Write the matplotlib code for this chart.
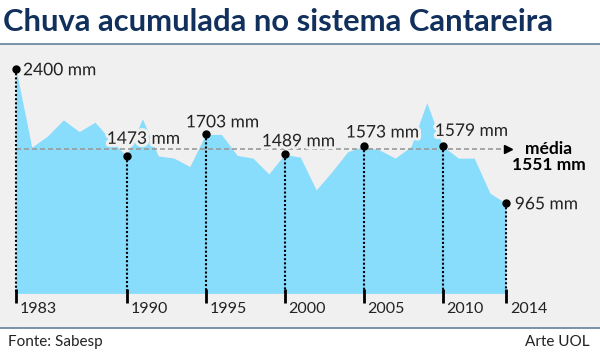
import matplotlib
matplotlib.use("Agg")
import matplotlib.pyplot as plt
import matplotlib.patheffects as pe
from matplotlib.patches import Rectangle

plt.rcParams['font.family'] = ['Lato', 'DejaVu Sans']

# chuva acumulada por ano (mm)
years = list(range(1983, 2015))
rain = [2400, 1565, 1686, 1858, 1732, 1833, 1640, 1473, 1870, 1472,
        1448, 1358, 1703, 1702, 1478, 1448, 1279, 1489, 1458, 1108,
        1304, 1518, 1573, 1536, 1448, 1572, 2043, 1579, 1448, 1448,
        1073, 965]
mean_rain = 1551

tick_years = [1983, 1990, 1995, 2000, 2005, 2010, 2014]
marked_years = [1983, 1990, 1995, 2000, 2005, 2010, 2014]
marked_labels = ['2400 mm', '1473 mm', '1703 mm', '1489 mm',
                 '1573 mm', '1579 mm', '965 mm']
# deslocamento do rótulo em pixels e alinhamento
label_offsets = [(7, -1), (17, 17), (17, 12), (14, 13), (19, 14), (29, 15), (9, -1)]
label_ha = ['left', 'center', 'center', 'center', 'center', 'center', 'left']

title = 'Chuva acumulada no sistema Cantareira'
source = 'Fonte: Sabesp'
credit = 'Arte UOL'

W, H = 600, 359
bg = '#f0f0f0'
blue = '#88dcfc'
navy = '#12305c'
rule = '#62809a'

fig = plt.figure(figsize=(W / 100, H / 100), dpi=100)
fig.patch.set_facecolor('white')

# painel cinza
fig.patches.append(Rectangle((0, 1 - 327.5 / H), 1, (327.5 - 43.5) / H,
                             transform=fig.transFigure, facecolor=bg,
                             edgecolor='none', zorder=-5))
fig.add_artist(plt.Line2D([0, 1], [1 - 43.5 / H] * 2, color=rule, lw=1.2,
                          transform=fig.transFigure))
fig.add_artist(plt.Line2D([0, 1], [1 - 327.5 / H] * 2, color=rule, lw=1.2,
                          transform=fig.transFigure))

ax = fig.add_axes([0, 0, 1, 1])
ax.set_zorder(2)
ax.set_facecolor('none')
px_per_year = 15.8
px_per_mm = 0.0934
x0, y0 = 16, 293.4
ax.set_xlim(1983 - x0 / px_per_year, 1983 + (W - x0) / px_per_year)
ax.set_ylim(-(H - y0) / px_per_mm, y0 / px_per_mm)
ax.axis('off')

ax.fill_between(years, rain, 0, color=blue, lw=0, zorder=1)

# média
ax.plot([1983, 2014], [mean_rain, mean_rain], color='#9a9a9a', lw=1.2,
        dashes=(3, 1.8), zorder=2)
ax.plot([2014 + 2.5 / px_per_year], [mean_rain], marker='>', color='black',
        ms=6, zorder=3)
halo = [pe.withStroke(linewidth=4.5, foreground=bg)]
ax.annotate('média', (2014, mean_rain), xytext=(43, 0), textcoords='offset pixels',
            ha='center', va='center', fontsize=12.5, fontweight='bold', zorder=5)
ax.annotate('1551 mm', (2014, mean_rain), xytext=(43, -16), textcoords='offset pixels',
            ha='center', va='center', fontsize=12.5, fontweight='bold', zorder=5)

# eixo
for yr in tick_years:
    ax.plot([yr, yr], [45, -105], color='black', lw=2, solid_capstyle='butt', zorder=4)
    ax.annotate(str(yr), (yr, -167), xytext=(4, 0), textcoords='offset pixels',
                ha='left', va='center', fontsize=11.5, color='#222222')

# marcadores
for i, yr in enumerate(marked_years):
    v = rain[years.index(yr)]
    ax.plot([yr, yr], [v, 0], color='black', lw=1.5, ls=(0, (1, 1)), zorder=3)
    ax.plot([yr], [v], 'o', color='black', ms=5, zorder=4)
    dx, dy = label_offsets[i]
    ax.annotate(marked_labels[i], (yr, v), xytext=(dx, dy), textcoords='offset pixels',
                ha=label_ha[i], va='center', fontsize=12.5, color='#222222',
                path_effects=halo, zorder=6)

fig.text(3 / W, 1 - 22 / H, title, fontsize=22.2, fontweight='bold', color=navy,
         ha='left', va='center')
fig.text(8 / W, 1 - 342 / H, source, fontsize=11, color='#222222', ha='left', va='center')
fig.text(590 / W, 1 - 342 / H, credit, fontsize=11, color='#222222', ha='right', va='center')

fig.savefig('out.png', dpi=100, facecolor='white')
